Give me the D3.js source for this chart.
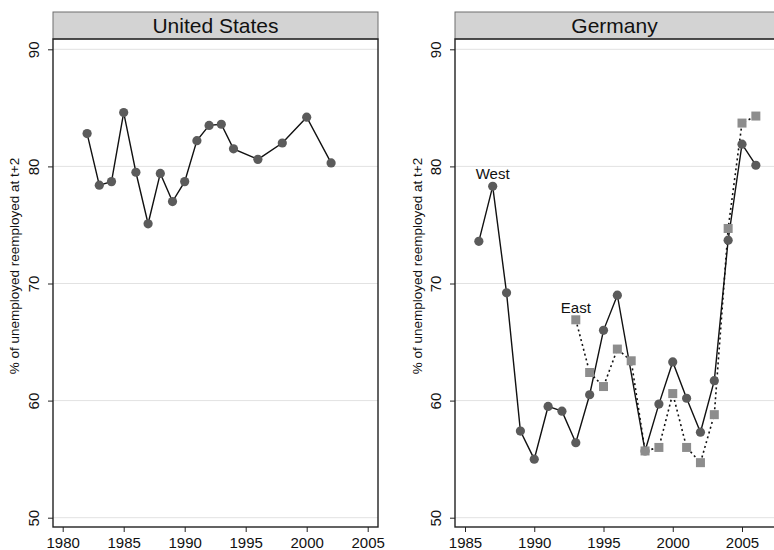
<!DOCTYPE html>
<html>
<head>
<meta charset="utf-8">
<script src="https://cdn.jsdelivr.net/npm/d3@7"></script>
<style>
  html, body { margin: 0; padding: 0; background: #fff; }
  svg { display: block; font-family: "Liberation Sans", Arial, Helvetica, sans-serif; }
</style>
</head>
<body>
<svg id="chart" width="774" height="550"></svg>
<script>
// ---- Data ----
const usYears  = [1982, 1983, 1984, 1985, 1986, 1987, 1988, 1989, 1990, 1991, 1992, 1993, 1994, 1996, 1998, 2000, 2002];
const usValues = [82.8, 78.4, 78.7, 84.6, 79.5, 75.1, 79.4, 77.0, 78.7, 82.2, 83.5, 83.6, 81.5, 80.6, 82.0, 84.2, 80.3];

const westYears  = [1986, 1987, 1988, 1989, 1990, 1991, 1992, 1993, 1994, 1995, 1996, 1998, 1999, 2000, 2001, 2002, 2003, 2004, 2005, 2006];
const westValues = [73.6, 78.3, 69.2, 57.4, 55.0, 59.5, 59.1, 56.4, 60.5, 66.0, 69.0, 55.7, 59.7, 63.3, 60.2, 57.3, 61.7, 73.7, 81.9, 80.1];

const eastYears  = [1993, 1994, 1995, 1996, 1997, 1998, 1999, 2000, 2001, 2002, 2003, 2004, 2005, 2006];
const eastValues = [66.9, 62.4, 61.2, 64.4, 63.4, 55.7, 56.0, 60.6, 56.0, 54.7, 58.8, 74.7, 83.7, 84.3];

const yTicks = [50, 60, 70, 80, 90];
const usXTicks = [1980, 1985, 1990, 1995, 2000, 2005];
const deXTicks = [1985, 1990, 1995, 2000, 2005];
const panelTitles = ["United States", "Germany"];
const yTitle = "% of unemployed reemployed at t+2";
const seriesLabels = ["West", "East"];

// ---- Layout ----
const svg = d3.select("#chart");
const stripTop = 12, stripBottom = 39, plotBottom = 527;
const y = d3.scaleLinear().domain([50, 90]).range([517.7, 49.3]);

const panels = [
  { left: 53, right: 378, x: d3.scaleLinear().domain([1980, 2005]).range([62.7, 367.7]), ticks: usXTicks, title: panelTitles[0], titleX: 15 },
  { left: 455, right: 780, x: d3.scaleLinear().domain([1985, 2005]).range([465, 742]), ticks: deXTicks, title: panelTitles[1], titleX: 418 }
];

const circleColor = "#5b5b5b";
const squareColor = "#8d8d8d";

panels.forEach(p => {
  const g = svg.append("g");
  // gridlines
  g.selectAll("line.grid").data(yTicks).enter().append("line")
    .attr("x1", p.left).attr("x2", p.right)
    .attr("y1", d => y(d)).attr("y2", d => y(d))
    .attr("stroke", "#e2e2e2").attr("stroke-width", 1);

  // strip
  g.append("rect").attr("x", p.left).attr("y", stripTop)
    .attr("width", p.right - p.left).attr("height", stripBottom - stripTop)
    .attr("fill", "#d3d3d3").attr("stroke", "#6e6e6e").attr("stroke-width", 1);
  g.append("text").attr("x", (p.left + p.right) / 2 - (p === panels[1] ? 3 : 0)).attr("y", 33)
    .attr("text-anchor", "middle").attr("font-size", 21).attr("fill", "#111").text(p.title);

  // plot frame
  g.append("rect").attr("x", p.left).attr("y", stripBottom)
    .attr("width", p.right - p.left).attr("height", plotBottom - stripBottom)
    .attr("fill", "none").attr("stroke", "#222").attr("stroke-width", 1.4);

  // y axis
  const ya = d3.axisLeft(y).tickValues(yTicks).tickSize(5).tickFormat(d3.format("d"));
  const yg = g.append("g").attr("transform", `translate(${p.left},0)`).call(ya);
  yg.select(".domain").remove();
  yg.selectAll(".tick line").attr("stroke", "#222");
  yg.selectAll(".tick text").attr("font-size", 15).attr("fill", "#111")
    .attr("font-family", "Liberation Sans, Arial, sans-serif")
    .attr("x", 0).attr("dy", 0).attr("text-anchor", "middle")
    .attr("transform", "translate(-14,0) rotate(-90)");

  // x axis
  const xa = d3.axisBottom(p.x).tickValues(p.ticks).tickSize(5).tickFormat(d3.format("d"));
  const xg = g.append("g").attr("transform", `translate(0,${plotBottom})`).call(xa);
  xg.select(".domain").remove();
  xg.selectAll(".tick line").attr("stroke", "#222");
  xg.selectAll(".tick text").attr("font-size", 15).attr("fill", "#111")
    .attr("font-family", "Liberation Sans, Arial, sans-serif")
    .attr("y", 21).attr("dy", 0);

  // y title
  g.append("text").attr("transform", `translate(${p.titleX + 4},266) rotate(-90)`)
    .attr("text-anchor", "middle").attr("font-size", 13.5).attr("fill", "#111").text(yTitle);
});

// ---- Series ----
const usP = panels[0], deP = panels[1];
const clipDe = svg.append("defs").append("clipPath").attr("id", "clipDe")
  .append("rect").attr("x", deP.left).attr("y", stripBottom).attr("width", deP.right - deP.left).attr("height", plotBottom - stripBottom);

function lineFor(p, years, vals) {
  return d3.line().x((d, i) => p.x(years[i])).y(d => y(d))(vals);
}

// US
svg.append("path").attr("d", lineFor(usP, usYears, usValues))
  .attr("fill", "none").attr("stroke", "#111").attr("stroke-width", 1.4);
svg.selectAll("circle.us").data(usValues).enter().append("circle")
  .attr("cx", (d, i) => usP.x(usYears[i])).attr("cy", d => y(d)).attr("r", 4.6)
  .attr("fill", circleColor);

// Germany
const gd = svg.append("g").attr("clip-path", "url(#clipDe)");
gd.append("path").attr("d", lineFor(deP, westYears, westValues))
  .attr("fill", "none").attr("stroke", "#111").attr("stroke-width", 1.4);
gd.append("path").attr("d", lineFor(deP, eastYears, eastValues))
  .attr("fill", "none").attr("stroke", "#111").attr("stroke-width", 1.6).attr("stroke-dasharray", "2,3");
gd.selectAll("circle.w").data(westValues).enter().append("circle")
  .attr("cx", (d, i) => deP.x(westYears[i])).attr("cy", d => y(d)).attr("r", 4.6)
  .attr("fill", circleColor);
const sq = 9;
gd.selectAll("rect.e").data(eastValues).enter().append("rect")
  .attr("x", (d, i) => deP.x(eastYears[i]) - sq / 2).attr("y", d => y(d) - sq / 2)
  .attr("width", sq).attr("height", sq).attr("fill", squareColor);

// labels
svg.append("text").attr("x", deP.x(westYears[1])).attr("y", y(westValues[1]) - 7)
  .attr("text-anchor", "middle").attr("font-size", 15).attr("fill", "#111").text(seriesLabels[0]);
svg.append("text").attr("x", deP.x(eastYears[0])).attr("y", y(eastValues[0]) - 7)
  .attr("text-anchor", "middle").attr("font-size", 15).attr("fill", "#111").text(seriesLabels[1]);
</script>
</body>
</html>
